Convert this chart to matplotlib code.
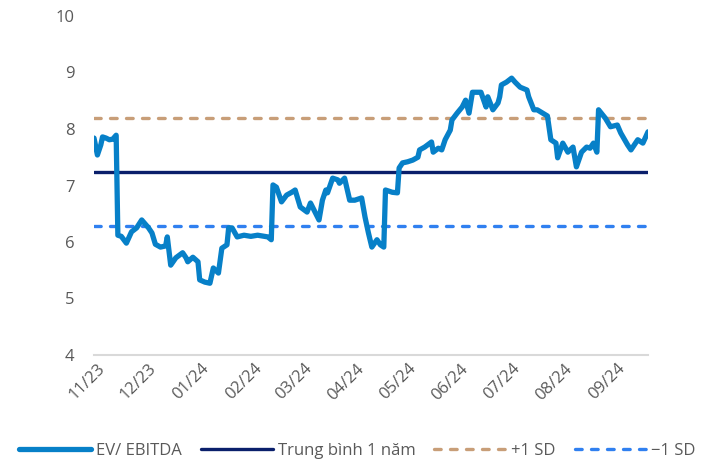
import pandas as pd
import matplotlib.pyplot as plt
import matplotlib.dates as mdates

plt.rcParams['font.family'] = ['Open Sans', 'DejaVu Sans']

# EV/EBITDA series
dates = ["2023-10-30", "2023-11-01", "2023-11-03", "2023-11-04", "2023-11-06", "2023-11-08",
         "2023-11-10", "2023-11-12", "2023-11-13", "2023-11-15", "2023-11-18", "2023-11-21",
         "2023-11-24", "2023-11-27", "2023-12-01", "2023-12-03", "2023-12-05", "2023-12-08",
         "2023-12-11", "2023-12-12", "2023-12-14", "2023-12-17", "2023-12-21", "2023-12-23",
         "2023-12-24", "2023-12-27", "2023-12-30", "2023-12-31", "2024-01-03", "2024-01-06",
         "2024-01-08", "2024-01-11", "2024-01-13", "2024-01-16", "2024-01-17", "2024-01-19",
         "2024-01-22", "2024-01-26", "2024-01-30", "2024-02-03", "2024-02-07", "2024-02-09",
         "2024-02-11", "2024-02-12", "2024-02-14", "2024-02-17", "2024-02-20", "2024-02-23",
         "2024-02-25", "2024-02-28", "2024-03-03", "2024-03-05", "2024-03-07", "2024-03-10",
         "2024-03-12", "2024-03-14", "2024-03-15", "2024-03-18", "2024-03-21", "2024-03-22",
         "2024-03-25", "2024-03-28", "2024-03-31", "2024-04-04", "2024-04-06", "2024-04-08",
         "2024-04-10", "2024-04-13", "2024-04-15", "2024-04-17", "2024-04-18", "2024-04-22",
         "2024-04-25", "2024-04-26", "2024-04-28", "2024-05-01", "2024-05-04", "2024-05-07",
         "2024-05-08", "2024-05-11", "2024-05-15", "2024-05-16", "2024-05-19", "2024-05-21",
         "2024-05-23", "2024-05-26", "2024-05-27", "2024-05-30", "2024-06-02", "2024-06-04",
         "2024-06-06", "2024-06-08", "2024-06-13", "2024-06-16", "2024-06-17", "2024-06-20",
         "2024-06-23", "2024-06-24", "2024-06-25", "2024-06-28", "2024-07-01", "2024-07-03",
         "2024-07-06", "2024-07-10", "2024-07-11", "2024-07-14", "2024-07-16", "2024-07-22",
         "2024-07-24", "2024-07-27", "2024-07-28", "2024-07-31", "2024-08-03", "2024-08-06",
         "2024-08-08", "2024-08-11", "2024-08-14", "2024-08-16", "2024-08-18", "2024-08-20",
         "2024-08-21", "2024-08-25", "2024-08-28", "2024-09-01", "2024-09-03", "2024-09-07",
         "2024-09-09", "2024-09-13", "2024-09-16", "2024-09-19"]
ev_ebitda = [7.84, 7.54, 7.72, 7.86, 7.84, 7.81,
             7.82, 7.89, 6.12, 6.10, 5.98, 6.18,
             6.25, 6.39, 6.25, 6.16, 5.96, 5.91,
             5.93, 6.09, 5.59, 5.72, 5.81, 5.72,
             5.65, 5.73, 5.65, 5.33, 5.29, 5.27,
             5.54, 5.45, 5.89, 5.95, 6.25, 6.25,
             6.09, 6.12, 6.10, 6.12, 6.10, 6.09,
             6.04, 7.01, 6.97, 6.71, 6.83, 6.88,
             6.92, 6.62, 6.53, 6.69, 6.57, 6.39,
             6.74, 6.92, 6.87, 7.13, 7.10, 7.04,
             7.13, 6.74, 6.74, 6.78, 6.44, 6.16,
             5.91, 6.04, 5.95, 5.91, 6.92, 6.88,
             6.87, 7.31, 7.40, 7.42, 7.45, 7.50,
             7.63, 7.68, 7.77, 7.59, 7.66, 7.63,
             7.81, 7.98, 8.16, 8.28, 8.39, 8.51,
             8.28, 8.65, 8.65, 8.39, 8.57, 8.34,
             8.46, 8.57, 8.78, 8.83, 8.90, 8.83,
             8.74, 8.69, 8.57, 8.34, 8.34, 8.23,
             7.81, 7.75, 7.49, 7.75, 7.59, 7.68,
             7.33, 7.59, 7.68, 7.66, 7.75, 7.59,
             8.34, 8.19, 8.04, 8.07, 7.93, 7.72,
             7.63, 7.81, 7.75, 7.95]

mean_1y = 7.24
plus_1sd = 8.19
minus_1sd = 6.29

tick_months = ["2023-11-01", "2023-12-01", "2024-01-01", "2024-02-01", "2024-03-01", "2024-04-01",
               "2024-05-01", "2024-06-01", "2024-07-01", "2024-08-01", "2024-09-01"]

x = pd.to_datetime(dates)
n = len(x)

fig = plt.figure(figsize=(7.08, 4.65), dpi=100)
ax = fig.add_axes([94 / 708, 1 - 355 / 465, (648 - 94) / 708, (355 - 16) / 465])

ax.plot(x, ev_ebitda, color="#0780C8", linewidth=3.8, solid_joinstyle="round",
        solid_capstyle="round", label="EV/ EBITDA", zorder=3)
ax.plot(x, [mean_1y] * n, color="#0A1F6B", linewidth=2.4, solid_capstyle="round",
        label="Trung bình 1 năm", zorder=2)
ax.plot(x, [plus_1sd] * n, color="#C89E78", linewidth=2.4, dashes=(2.0, 2.8),
        dash_capstyle="round", label="+1 SD", zorder=2)
ax.plot(x, [minus_1sd] * n, color="#3080F0", linewidth=2.4, dashes=(2.0, 2.8),
        dash_capstyle="round", label="\u22121 SD", zorder=2)

ax.set_xlim(x[0], x[-1])
ax.set_ylim(4, 10)
ax.set_yticks(range(4, 11))
ax.set_xticks(pd.to_datetime(tick_months))
ax.xaxis.set_major_formatter(mdates.DateFormatter("%m/%y"))

for s in ["top", "right", "left"]:
    ax.spines[s].set_visible(False)
ax.spines["bottom"].set_color("#D9D9D9")
ax.spines["bottom"].set_linewidth(1.5)
ax.tick_params(axis="both", length=0, colors="#595959", labelsize=12)
ax.tick_params(axis="y", pad=14)
ax.tick_params(axis="x", pad=4)
for lbl in ax.get_xticklabels():
    lbl.set_rotation(45)
    lbl.set_ha("right")
    lbl.set_va("top")
    lbl.set_rotation_mode("anchor")

leg = fig.legend(loc="lower center", bbox_to_anchor=(0.505, -0.02), ncol=4, frameon=False,
                 fontsize=12, handlelength=4.3, handletextpad=0.3, columnspacing=1.15,
                 labelcolor="#595959")

fig.savefig("out.png", dpi=100)
